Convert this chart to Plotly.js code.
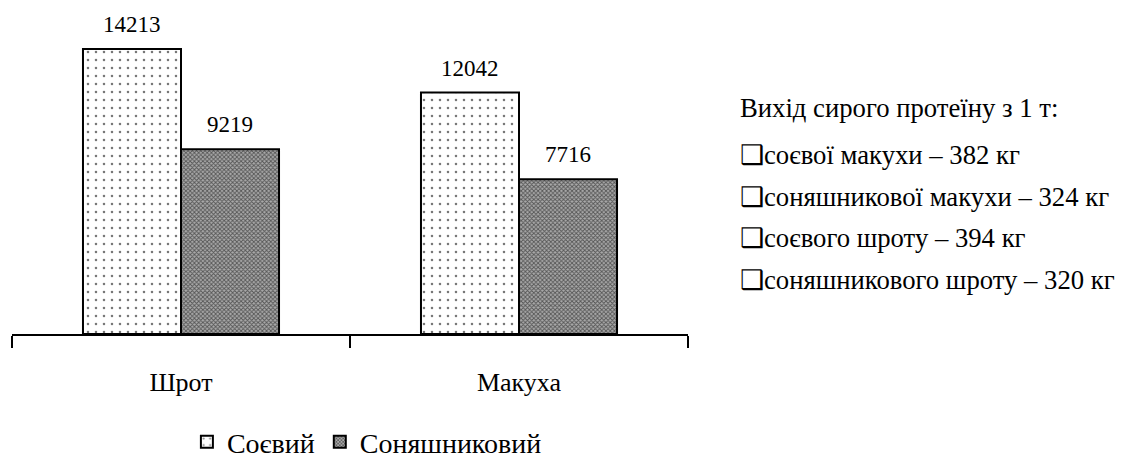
<!DOCTYPE html>
<html><head><meta charset="utf-8">
<script src="https://cdn.plot.ly/plotly-3.0.1.min.js"></script>
<style>html,body{margin:0;padding:0;background:#fff}#chart{width:1125px;height:463px}</style>
</head><body><div id="chart"></div>
<script>
const categories = ['Шрот', 'Макуха'];
const soyValues = [14213, 12042];
const sunValues = [9219, 7716];
const seriesNames = ['Соєвий', 'Соняшниковий'];
const noteTitle = 'Вихід сирого протеїну з 1 т:';
const noteItems = ['соєвої макухи', 'соняшникової макухи', 'соєвого шроту', 'соняшникового шроту'];
const noteValues = [382, 324, 394, 320];

const serif = '"Liberation Serif", "Times New Roman", serif';
const plotW = 676, bargap = 0.42;
const barPx = plotW / categories.length * (1 - bargap) / 2;

const traces = [
  {type:'bar', name:seriesNames[0], x:categories, y:soyValues,
   marker:{color:'#fff', line:{color:'#000',width:2},
     pattern:{shape:'.', fgcolor:'#777', bgcolor:'#fff', size:8, solidity:0.08}}},
  {type:'bar', name:seriesNames[1], x:categories, y:sunValues,
   marker:{color:'#909090', line:{color:'#000',width:2},
     pattern:{shape:'x', fgcolor:'#555', bgcolor:'#aaa', size:3, solidity:0.5}}}
];
const annotations = [];
[soyValues, sunValues].forEach((vals, s) => {
  vals.forEach((v, i) => {
    annotations.push({xref:'x', yref:'y', x:categories[i], y:v, text:String(v), showarrow:false,
      xanchor:'center', yanchor:'bottom', xshift:(s === 0 ? -1 : 1) * barPx / 2, yshift:10,
      font:{family:serif, size:23, color:'#000'}});
  });
});
const noteY = [0.677, 0.536, 0.410, 0.287, 0.162];
annotations.push({xref:'paper',yref:'paper',x:1.074,y:noteY[0],xanchor:'left',yanchor:'middle',
  text:noteTitle,showarrow:false,font:{family:serif,size:26.7,color:'#000'}});
noteItems.forEach((t,i)=>{
  annotations.push({xref:'paper',yref:'paper',x:1.074,y:noteY[i+1],xanchor:'left',yanchor:'middle',
    text:'❑'+t+' – '+noteValues[i]+' кг',showarrow:false,font:{family:serif,size:26.7,color:'#000'}});
});
const layout = {
  width:1125, height:463, margin:{l:12,r:437,t:0,b:129},
  paper_bgcolor:'#fff', plot_bgcolor:'#fff',
  font:{family:serif, color:'#000'},
  barmode:'group', bargap:bargap, bargroupgap:0,
  showlegend:true,
  legend:{orientation:'h', xref:'paper', x:0.525, xanchor:'center', yref:'container', y:0.045, yanchor:'middle',
    font:{family:serif,size:28,color:'#000'}},
  xaxis:{type:'category', showline:true, linecolor:'#000', linewidth:2, ticks:'outside',
    tickson:'boundaries', ticklen:12, tickwidth:2, tickcolor:'#000', range:[-0.5,1.5],
    ticklabelstandoff:24,
    tickfont:{family:serif,size:26,color:'#000'}, showgrid:false, zeroline:false},
  yaxis:{range:[0,16660], visible:false, showgrid:false, zeroline:false},
  annotations:annotations
};
Plotly.newPlot('chart', traces, layout, {displayModeBar:false, staticPlot:true});
</script></body></html>
